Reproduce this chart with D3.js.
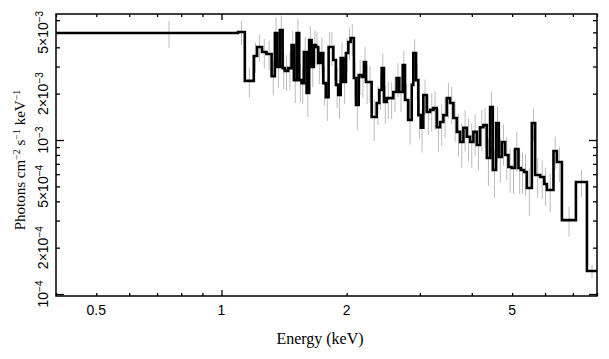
<!DOCTYPE html>
<html><head><meta charset="utf-8">
<script src="https://cdn.jsdelivr.net/npm/d3@7"></script>
<style>body{margin:0;background:#fff}</style>
</head><body><svg id="c" width="609" height="359"></svg>
<script>
// ---- data (energy in keV, flux in 1e-3 photons cm^-2 s^-1 keV^-1) ----
const binLo = [0.400,1.096,1.138,1.196,1.218,1.252,1.283,1.320,1.344,1.361,
  1.382,1.403,1.420,1.447,1.474,1.493,1.516,1.538,1.558,1.578,
  1.602,1.625,1.647,1.668,1.687,1.708,1.731,1.757,1.783,1.810,
  1.830,1.857,1.885,1.909,1.935,1.963,1.992,2.018,2.045,2.082,
  2.106,2.138,2.174,2.202,2.226,2.254,2.297,2.362,2.396,2.428,
  2.459,2.496,2.542,2.589,2.638,2.677,2.728,2.763,2.814,2.868,
  2.893,2.937,2.975,3.015,3.058,3.116,3.174,3.233,3.294,3.355,
  3.417,3.482,3.546,3.612,3.681,3.749,3.818,3.890,3.962,4.035,
  4.112,4.188,4.265,4.346,4.426,4.493,4.576,4.645,4.723,4.810,
  4.899,4.992,5.084,5.178,5.247,5.344,5.425,5.577,5.680,5.841,
  5.972,6.062,6.287,6.407,6.587,7.118,7.566];
const lastBinHi = 8.0;
const fluxE3 = [4.95,5.03,2.42,3.51,4.02,3.73,3.62,2.60,4.95,2.98,
  5.18,2.93,2.81,2.93,4.14,2.45,4.95,2.45,2.34,3.73,
  2.02,4.46,2.98,4.14,4.02,3.16,3.67,2.34,1.90,4.02,
  4.02,3.31,2.28,1.96,3.41,2.38,3.67,4.33,4.60,2.53,
  1.69,2.64,2.57,3.21,2.38,2.38,1.41,1.74,2.11,2.93,
  1.77,1.87,1.87,2.05,2.53,2.05,3.07,1.82,1.35,2.28,
  3.67,2.45,1.45,1.20,1.96,1.52,1.57,1.61,1.21,1.31,
  1.45,1.87,1.74,1.39,1.13,0.971,1.20,1.05,0.971,1.13,
  0.928,1.21,1.25,0.764,1.64,0.639,1.29,0.775,0.971,0.799,
  0.668,0.658,0.874,0.658,0.639,0.620,0.488,1.29,0.593,0.575,
  0.518,0.474,0.848,0.720,0.302,0.534,0.141];
const errFrac = [0.20,0.18,0.22,0.22,0.20,0.22,0.22,0.25,0.26,0.27,
  0.24,0.27,0.26,0.28,0.24,0.29,0.23,0.28,0.27,0.25,
  0.30,0.24,0.26,0.25,0.25,0.27,0.26,0.28,0.30,0.25,
  0.25,0.26,0.29,0.30,0.26,0.28,0.25,0.24,0.23,0.27,
  0.31,0.26,0.27,0.25,0.28,0.27,0.30,0.28,0.26,0.24,
  0.28,0.27,0.27,0.26,0.25,0.26,0.24,0.27,0.31,0.26,
  0.23,0.26,0.30,0.31,0.26,0.29,0.28,0.28,0.31,0.30,
  0.29,0.26,0.27,0.30,0.31,0.32,0.30,0.31,0.32,0.30,
  0.32,0.30,0.29,0.34,0.26,0.34,0.28,0.32,0.30,0.31,
  0.32,0.32,0.29,0.32,0.30,0.30,0.34,0.24,0.29,0.28,
  0.28,0.28,0.24,0.26,0.22,0.20,0.10];
const xTickLabels = [0.5, 1, 2, 5];
const xMajorTicks = [1];
const xMinorTicks = [0.4,0.5,0.6,0.7,0.8,0.9,2,3,4,5,6,7,8];
const yTickLabelValues = [1e-4,2e-4,5e-4,1e-3,2e-3,5e-3];
const yTickMantissa = ["","2×","5×","","2×","5×"];
const yTickExponent = ["−4","−4","−4","−3","−3","−3"];
const yMajorTicks = [1e-4,1e-3];
const yMinorTicks = [2e-4,3e-4,4e-4,5e-4,6e-4,7e-4,8e-4,9e-4,2e-3,3e-3,4e-3,5e-3,6e-3];

// ---- layout ----
const L=56, R=597, T=14, B=296;
const x = d3.scaleLog().domain([0.4, 8]).range([L, R]);
const y = d3.scaleLog().domain([0.971e-4, 6.58e-3]).range([B, T]);
const svg = d3.select("#c");

const bins = binLo.map((lo,i)=>({
  lo, hi: i < binLo.length-1 ? binLo[i+1] : lastBinHi,
  f: fluxE3[i]*1e-3, e: errFrac[i]*fluxE3[i]*1e-3
}));

svg.append("defs").append("clipPath").attr("id","clip")
  .append("rect").attr("x",L).attr("y",T).attr("width",R-L).attr("height",B-T);
const g = svg.append("g").attr("clip-path","url(#clip)");

g.selectAll("line.err").data(bins).join("line").attr("class","err")
  .attr("x1", d=>x((d.lo+d.hi)/2)).attr("x2", d=>x((d.lo+d.hi)/2))
  .attr("y1", d=>y(d.f+d.e)).attr("y2", d=>y(Math.max(d.f-d.e, 1e-6)))
  .attr("stroke","#bcbcbc").attr("stroke-width",1);

const pts = bins.map(d=>[d.lo, d.f]);
pts.push([lastBinHi, bins[bins.length-1].f]);
g.append("path").datum(pts)
  .attr("d", d3.line().x(d=>x(d[0])).y(d=>y(d[1])).curve(d3.curveStepAfter))
  .attr("fill","none").attr("stroke","#000").attr("stroke-width",2.6)
  .attr("stroke-linejoin","miter");

// ---- frame and ticks ----
svg.append("rect").attr("x",L).attr("y",T).attr("width",R-L).attr("height",B-T)
  .attr("fill","none").attr("stroke","#000").attr("stroke-width",1.5);

function ticks(gen, vals, size, tx, ty){
  svg.append("g").attr("transform",`translate(${tx},${ty})`)
    .call(gen.tickValues(vals).tickSize(size).tickFormat(""))
    .call(s=>s.select(".domain").remove())
    .selectAll("line").attr("stroke","#000").attr("stroke-width",1.3);
}
ticks(d3.axisBottom(x), xMinorTicks, -3, 0, B);
ticks(d3.axisBottom(x), xMajorTicks, -6, 0, B);
ticks(d3.axisTop(x), xMinorTicks, -3, 0, T);
ticks(d3.axisTop(x), xMajorTicks, -6, 0, T);
ticks(d3.axisLeft(y), yMinorTicks, -4, L, 0);
ticks(d3.axisLeft(y), yMajorTicks, -8, L, 0);
ticks(d3.axisRight(y), yMinorTicks, -4, R, 0);
ticks(d3.axisRight(y), yMajorTicks, -8, R, 0);

// ---- tick labels ----
svg.append("g").selectAll("text").data(xTickLabels).join("text")
  .attr("x", d=>x(d)).attr("y", 315).attr("text-anchor","middle")
  .attr("font-family","Liberation Sans, Arial, sans-serif").attr("font-size",14)
  .text(d=>String(d));

const yl = svg.append("g").selectAll("text").data(yTickLabelValues).join("text")
  .attr("transform", d=>`translate(47.5,${y(d)}) rotate(-90)`)
  .attr("text-anchor","middle")
  .attr("font-family","Liberation Sans, Arial, sans-serif").attr("font-size",14);
yl.append("tspan").text((d,i)=>yTickMantissa[i]+"10");
yl.append("tspan").attr("dy",-5).attr("font-size",10).text((d,i)=>yTickExponent[i]);

// ---- axis titles ----
svg.append("text").attr("x",320).attr("y",344).attr("text-anchor","middle")
  .attr("font-family","Liberation Serif, Times New Roman, serif").attr("font-size",16)
  .text("Energy (keV)");

const yt = svg.append("text").attr("transform","translate(25,160) rotate(-90)")
  .attr("text-anchor","middle")
  .attr("font-family","Liberation Serif, Times New Roman, serif").attr("font-size",15);
const parts = [["Photons cm",0],["−2",1],[" s",0],["−1",1],[" keV",0],["−1",1]];
let up=false;
parts.forEach(([t,s])=>{
  const ts = yt.append("tspan").text(t);
  if(s){ ts.attr("dy",-5).attr("font-size",10); up=true; }
  else if(up){ ts.attr("dy",5); up=false; }
});
</script></body></html>
